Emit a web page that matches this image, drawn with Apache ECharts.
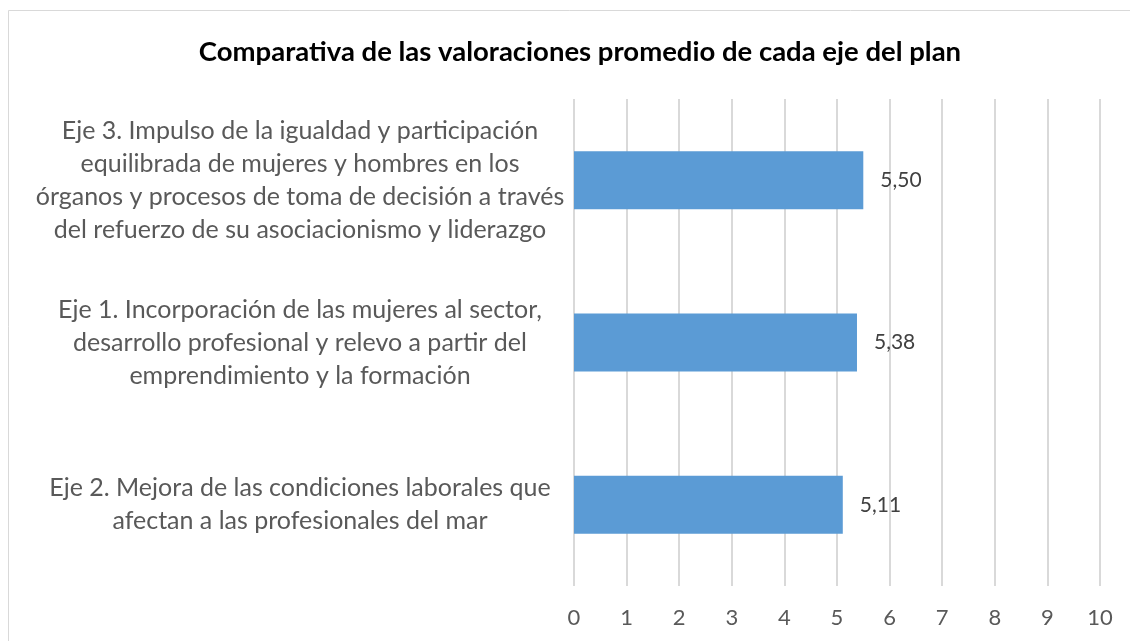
<!DOCTYPE html>
<html>
<head>
<meta charset="utf-8">
<script src="https://cdn.jsdelivr.net/npm/echarts@6/dist/echarts.min.js"></script>
<style>
html,body{margin:0;padding:0;background:#fff;}
#c{width:1130px;height:641px;}
</style>
</head>
<body>
<div id="c"></div>
<script>
const titleText = 'Comparativa de las valoraciones promedio de cada eje del plan';
const categories = [
  'Eje 3. Impulso de la igualdad y participación\nequilibrada de mujeres y hombres en los\nórganos y procesos de toma de decisión a través\ndel refuerzo de su asociacionismo y liderazgo',
  'Eje 1. Incorporación de las mujeres al sector,\ndesarrollo profesional y relevo a partir del\nemprendimiento y la formación',
  'Eje 2. Mejora de las condiciones laborales que\nafectan a las profesionales del mar'
];
const values = [5.50, 5.38, 5.11];
const xTicks = [0, 1, 2, 3, 4, 5, 6, 7, 8, 9, 10];

const chart = echarts.init(document.getElementById('c'), null, {renderer: 'canvas'});
const FONT = 'Lato, sans-serif';
chart.setOption({
  backgroundColor: '#ffffff',
  animation: false,
  title: {
    text: titleText,
    left: 575,
    textAlign: 'center',
    top: 33,
    textStyle: {fontFamily: FONT, fontWeight: 'bold', fontSize: 27.5, color: '#000000'}
  },
  graphic: [{
    type: 'rect',
    shape: {x: 8.5, y: 10.5, width: 1200, height: 700},
    style: {fill: 'none', stroke: '#d9d9d9', lineWidth: 1},
    silent: true
  }],
  grid: {left: 574, right: 30, top: 99, bottom: 55, containLabel: false},
  xAxis: {
    type: 'value',
    min: xTicks[0],
    max: xTicks[xTicks.length - 1],
    interval: 1,
    axisLine: {show: false},
    axisTick: {show: false},
    splitLine: {show: true, lineStyle: {color: '#d9d9d9', width: 2}},
    axisLabel: {
      color: '#595959', fontFamily: FONT, fontSize: 22, margin: 21,
      formatter: v => String(v)
    }
  },
  yAxis: {
    type: 'category',
    inverse: true,
    data: categories,
    axisLine: {show: false},
    axisTick: {show: false},
    axisLabel: {
      color: '#595959', fontFamily: FONT, fontSize: 25, lineHeight: 33,
      align: 'center', margin: 274, padding: [7, 0, 0, 0]
    }
  },
  series: [{
    type: 'bar',
    data: values,
    barWidth: 58,
    itemStyle: {color: '#5b9bd5'},
    label: {
      show: true, position: 'right', distance: 17,
      color: '#404040', fontFamily: FONT, fontSize: 21,
      formatter: p => p.value.toFixed(2).replace('.', ',')
    }
  }]
});
</script>
</body>
</html>
